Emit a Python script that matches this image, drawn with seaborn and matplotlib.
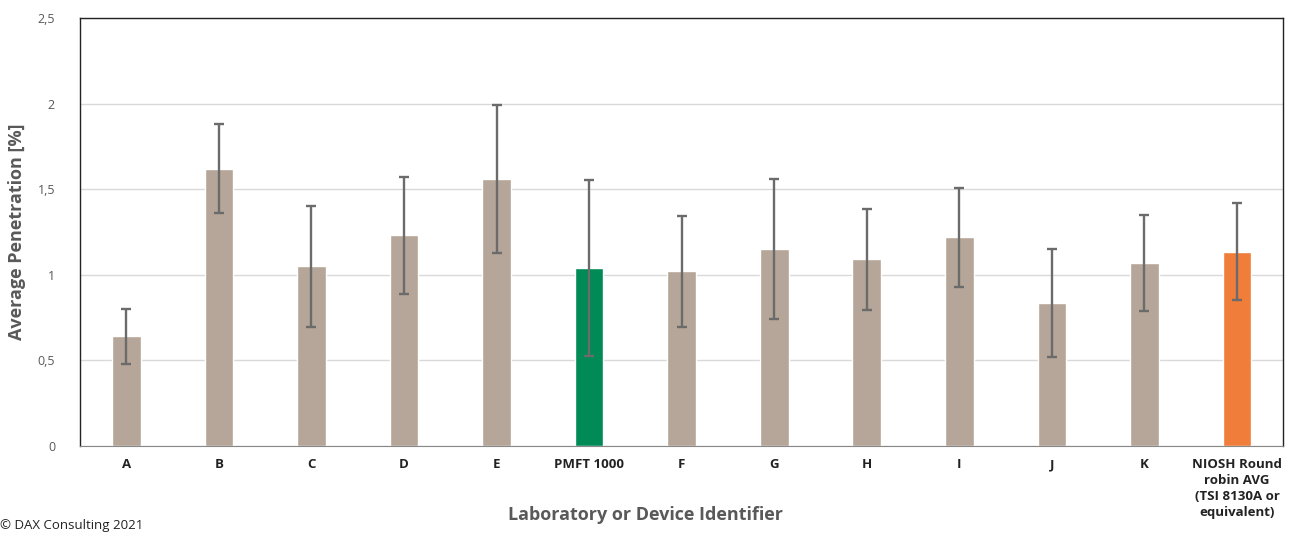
import numpy as np
import pandas as pd
import seaborn as sns
import matplotlib.pyplot as plt

labels = ["A", "B", "C", "D", "E", "PMFT 1000", "F", "G", "H", "I", "J", "K",
          "NIOSH Round\nrobin AVG\n(TSI 8130A or\nequivalent)"]
values = [0.64, 1.62, 1.05, 1.23, 1.56, 1.04, 1.02, 1.15, 1.09, 1.22, 0.835, 1.07, 1.135]
errors = [0.16, 0.26, 0.355, 0.34, 0.435, 0.515, 0.325, 0.41, 0.295, 0.29, 0.315, 0.28, 0.285]
groups = ["lab"] * 5 + ["pmft"] + ["lab"] * 6 + ["niosh"]

palette = {"lab": "#b5a699", "pmft": "#008a55", "niosh": "#f07d3a"}

df = pd.DataFrame({"label": labels, "value": values, "err": errors, "group": groups})

sns.set_style("white")
plt.rcParams["font.family"] = ["Open Sans", "DejaVu Sans"]

fig = plt.figure(figsize=(12.91, 5.34), dpi=100)
ax = fig.add_axes([0.062, 0.165, 0.932, 0.801])

sns.barplot(data=df, x="label", y="value", hue="group", palette=palette,
            dodge=False, width=0.31, saturation=1, legend=False, ax=ax, zorder=2)
ax.errorbar(np.arange(len(df)), df["value"], yerr=df["err"], fmt="none",
            ecolor="#6b6b6b", elinewidth=1.7, capsize=3.5, capthick=1.7, zorder=3)

ax.set_ylim(0, 2.5)
ax.set_xlim(-0.5, len(df) - 0.5)
ax.set_yticks([0, 0.5, 1, 1.5, 2, 2.5])
ax.set_yticklabels(["0", "0,5", "1", "1,5", "2", "2,5"])
ax.yaxis.grid(True, color="#d9d9d9", linewidth=1, zorder=0)
ax.set_axisbelow(True)

ax.tick_params(axis="y", labelsize=9, colors="#595959", length=0, pad=18)
ax.tick_params(axis="x", length=0, pad=9)
for t in ax.get_xticklabels():
    t.set_fontsize(9.5)
    t.set_fontweight("bold")
    t.set_color("#222222")
    t.set_linespacing(1.3)
    t.set_verticalalignment("top")

for s in ["top", "right", "left"]:
    ax.spines[s].set_color("#222222")
    ax.spines[s].set_linewidth(1)
ax.spines["bottom"].set_color("#888888")

ax.set_xlabel("Laboratory or Device Identifier", fontsize=13, fontweight="bold",
              color="#595959")
ax.set_ylabel("Average Penetration [%]", fontsize=13, fontweight="bold",
              color="#595959", labelpad=8)
ax.xaxis.set_label_coords(0.47, -0.14)

fig.text(0.0, 0.003, "© DAX Consulting 2021", fontsize=9.5, color="#222222",
         ha="left", va="bottom")

fig.savefig("out.png", dpi=100)
